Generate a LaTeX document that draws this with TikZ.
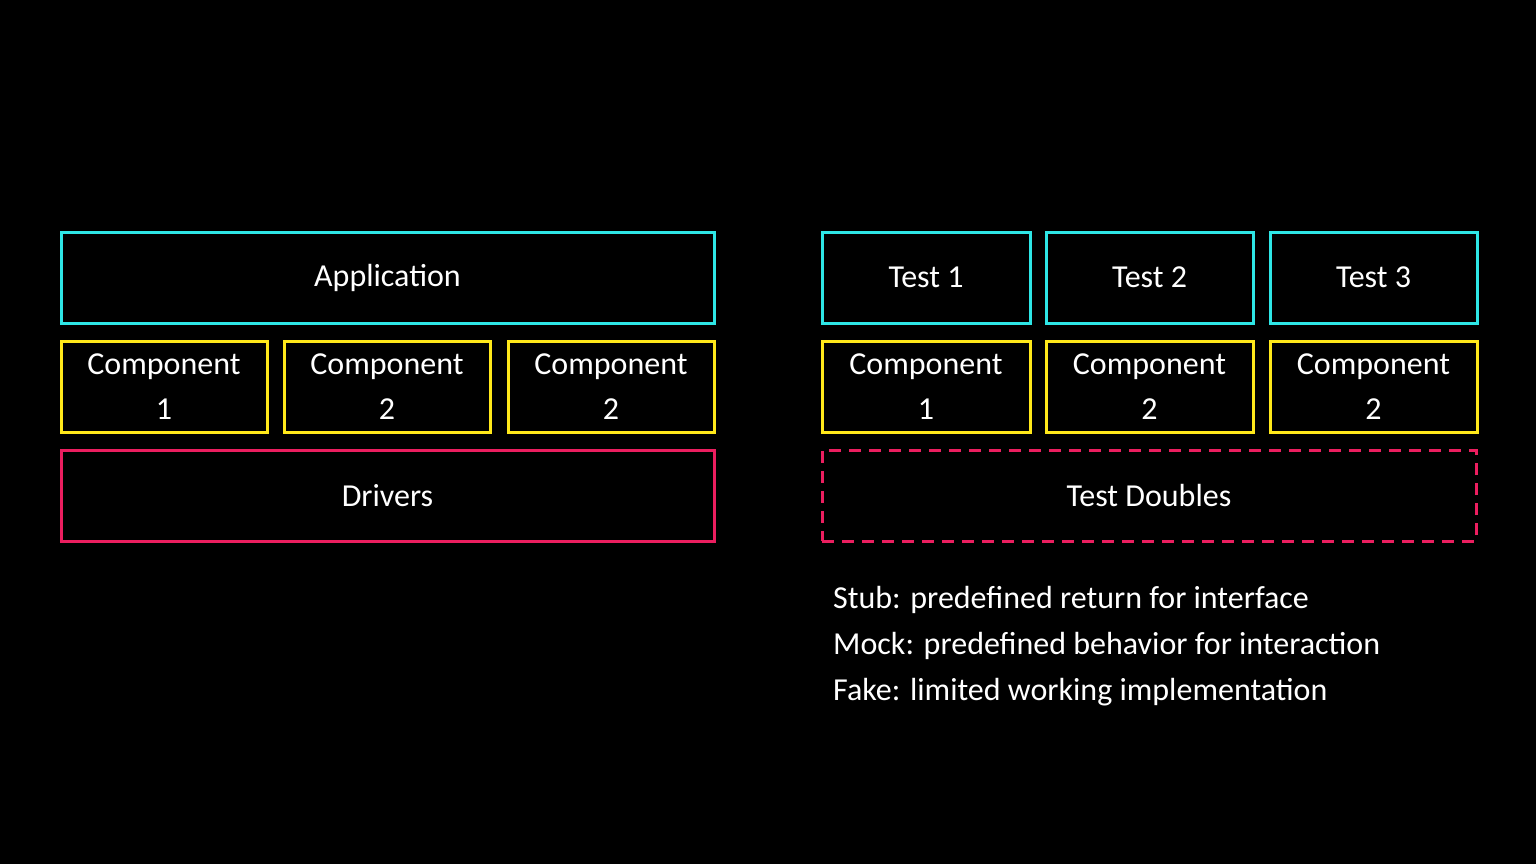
\documentclass[tikz,border=0pt]{standalone}
\usepackage{fontspec}
\setmainfont{Carlito}
\definecolor{cy}{HTML}{2EE6E6}
\definecolor{ye}{HTML}{FFE81A}
\definecolor{pk}{HTML}{EB1E5F}
\begin{document}
\begin{tikzpicture}[x=1pt,y=-1pt,
  box/.style={draw,line width=3pt,text=white,font=\fontsize{32}{36}\selectfont,align=center,inner sep=0pt},
  txt/.style={text=white,font=\fontsize{32}{46}\selectfont,anchor=north west,align=left,inner sep=0pt}]
\fill[black] (0,0) rectangle (1536,864);
\useasboundingbox (0,0) rectangle (1536,864);
\newcommand{\bx}[6]{\node[box,#6,minimum width=#4-#2,minimum height=#5-#3] (#1) at ({(#2+#4)/2},{(#3+#5)/2}) {};}
\bx{app}{61}{232}{714}{323}{cy}
\node[text=white,font=\fontsize{32}{36}\selectfont] at (app) {Application};
\foreach \n/\a/\b/\l in {c1/61/267/1,c2/284/490/2,c3/508/714/2,d1/822/1030/1,d2/1046/1253/2,d3/1270/1477/2}{
  \bx{\n}{\a}{341}{\b}{432}{ye}
  \node[text=white,font=\fontsize{32}{45}\selectfont,align=center] at (\n) {Component\\\l};
}
\foreach \n/\a/\b/\l in {t1/822/1030/1,t2/1046/1253/2,t3/1270/1477/3}{
  \bx{\n}{\a}{232}{\b}{323}{cy}
  \node[text=white,font=\fontsize{32}{36}\selectfont] at (\n) {Test \l};
}
\bx{drv}{61}{450}{714}{541}{pk}
\node[text=white,font=\fontsize{32}{36}\selectfont] at (drv) {Drivers};
\bx{td}{822}{450}{1476}{541}{pk,dash pattern=on 12pt off 8pt}
\node[text=white,font=\fontsize{32}{36}\selectfont] at (td) {Test Doubles};
\node[txt] (notes) at (833,586) {Stub: predefined return for interface\\Mock: predefined behavior for interaction\\Fake: limited working implementation};
\end{tikzpicture}
\end{document}
